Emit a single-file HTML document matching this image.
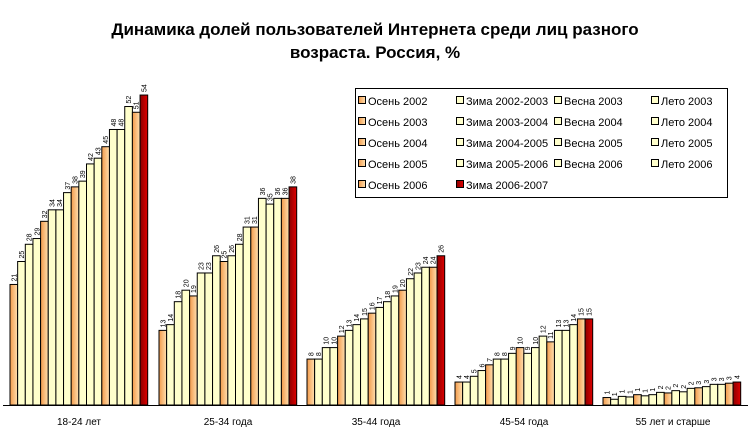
<!DOCTYPE html>
<html><head><meta charset="utf-8"><style>
body{margin:0;background:#fff}
svg{display:block;font-family:"Liberation Sans",sans-serif}
</style></head><body>
<svg id="s" width="752" height="438" xmlns="http://www.w3.org/2000/svg">
<defs>
<linearGradient id="o" x1="0" x2="1"><stop offset="0" stop-color="#f39a4a"/><stop offset="1" stop-color="#ffe0b0"/></linearGradient>
<linearGradient id="r" x1="0" x2="1"><stop offset="0" stop-color="#8b0000"/><stop offset="1" stop-color="#e00000"/></linearGradient>
</defs>
<text x="375" y="35" text-anchor="middle" font-size="17" font-weight="bold">Динамика долей пользователей Интернета среди лиц разного</text>
<text x="375" y="58" text-anchor="middle" font-size="17" font-weight="bold">возраста. Россия, %</text>
<g id="bars"></g>
<line x1="3" y1="405.5" x2="748" y2="405.5" stroke="#000"/>
<g font-size="10" text-anchor="middle">
<text x="79" y="425">18-24 лет</text>
<text x="228" y="425">25-34 года</text>
<text x="376" y="425">35-44 года</text>
<text x="524" y="425">45-54 года</text>
<text x="673" y="425">55 лет и старше</text>
</g>
<rect x="355.5" y="88.5" width="372" height="109" fill="#fff" stroke="#000"/>
<g id="leg" font-size="11"></g>
</svg>
<script>
var D=[[21,25,28,29,32,34,34,37,38,39,42,43,45,48,48,52,51,54],
[13,14,18,20,19,23,23,26,25,26,28,31,31,36,35,36,36,38],
[8,8,10,10,12,13,14,15,16,17,18,19,20,22,23,24,24,26],
[4,4,5,6,7,8,8,9,10,9,10,12,11,13,13,14,15,15],
[1.3,1,1.5,1.4,1.8,1.6,1.8,2.2,2.1,2.5,2.3,2.9,3,3.2,3.6,3.6,3.8,4]];
var L=[[1,1,1,1,1,1,1,2,2,2,2,2,3,3,3,3,3,4]];
var g=document.getElementById('bars'),h='';
var starts=[10,159,307,455,603],w=7.65,k=5.74,b=405;
for(var i=0;i<5;i++)for(var j=0;j<18;j++){
 var v=D[i][j],x=starts[i]+j*w,hh=v*k,y=b-hh;
 var f=j==17?'url(#r)':(j%4==0?'url(#o)':'#ffffcc');
 h+='<rect x="'+x.toFixed(2)+'" y="'+y.toFixed(2)+'" width="'+w+'" height="'+hh.toFixed(2)+'" fill="'+f+'" stroke="#000" stroke-width="1"/>';
 var lab=i==4?L[0][j]:v;
 h+='<text font-size="7" transform="translate('+(x+w/2+2.5).toFixed(2)+','+(y-3).toFixed(2)+') rotate(-90)">'+lab+'</text>';
}
g.innerHTML=h;
var names=[["Осень 2002","Зима 2002-2003","Весна 2003","Лето 2003"],["Осень 2003","Зима 2003-2004","Весна 2004","Лето 2004"],["Осень 2004","Зима 2004-2005","Весна 2005","Лето 2005"],["Осень 2005","Зима 2005-2006","Весна 2006","Лето 2006"],["Осень 2006","Зима 2006-2007"]];
var cx=[358,456,554,651],lh='';
for(var r=0;r<5;r++)for(var c=0;c<names[r].length;c++){
 var y=101+r*21,f=(r==4&&c==1)?'url(#r)':(c==0?'url(#o)':'#ffffcc');
 lh+='<rect x="'+(cx[c]+0.5)+'" y="'+(y-4.5)+'" width="7" height="7" fill="'+f+'" stroke="#000"/>';
 lh+='<text x="'+(cx[c]+10)+'" y="'+(y+4)+'">'+names[r][c]+'</text>';
}
document.getElementById('leg').innerHTML=lh;
</script>
</body></html>
